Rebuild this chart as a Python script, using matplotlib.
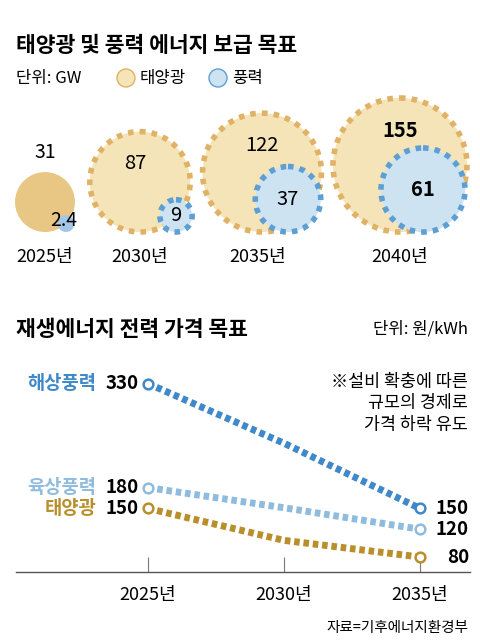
import numpy as np
import matplotlib.pyplot as plt
from matplotlib.patches import Circle

plt.rcParams['font.family'] = ['Noto Sans CJK KR', 'DejaVu Sans']

# bubble chart data (GW)
years_top = ['2025년', '2030년', '2035년', '2040년']
solar_gw = [31, 87, 122, 155]
wind_gw = [2.4, 9, 37, 61]

# price chart data (원/kWh)
years_line = [2025, 2030, 2035]
offshore = [330, 244, 150]
onshore = [180, 151, 120]
solar_price = [150, 104, 80]

C_SOLAR_FILL = '#f4e4b8'
C_SOLAR_EDGE = '#e0b266'
C_WIND_FILL = '#cde3f2'
C_WIND_EDGE = '#5d9fd3'
C_OFF = '#3f88c9'
C_ON = '#8fbcde'
C_SOL = '#b98f2c'

fig = plt.figure(figsize=(4.8, 6.44), dpi=100)
bg = fig.add_axes([0, 0, 1, 1])
bg.set_xlim(0, 480)
bg.set_ylim(644, 0)
bg.set_aspect('equal')
bg.axis('off')

bg.text(16, 45, '태양광 및 풍력 에너지 보급 목표', fontsize=15.5, fontweight='bold', va='center')
bg.text(16, 78, '단위: GW', fontsize=12, va='center')
bg.add_patch(Circle((126, 78), 9, facecolor=C_SOLAR_FILL, edgecolor=C_SOLAR_EDGE, lw=1))
bg.text(140, 78, '태양광', fontsize=12, va='center')
bg.add_patch(Circle((218, 78), 9, facecolor=C_WIND_FILL, edgecolor=C_WIND_EDGE, lw=1))
bg.text(232, 78, '풍력', fontsize=12, va='center')

# bubbles: area proportional to value, bottoms aligned
scale = 67 / np.sqrt(max(solar_gw))
base = 232
solar_x = [45, 140, 262, 400]
wind_x = [66, 176, 288, 423]
label_x = [45, 140, 258, 400]
dots = (0, (1, 1.1))
for i in range(4):
    rs = scale * np.sqrt(solar_gw[i])
    rw = scale * np.sqrt(wind_gw[i])
    if i == 0:
        bg.add_patch(Circle((solar_x[i], base - rs), rs, facecolor='#e8c683', edgecolor='none'))
        bg.add_patch(Circle((wind_x[i], base - rw), rw, facecolor='#a3c7e6', edgecolor='none'))
        bg.text(solar_x[i], base - 2 * rs - 20, f'{solar_gw[i]}', fontsize=14, ha='center', va='center')
        bg.text(wind_x[i] - 2, base - 12, f'{wind_gw[i]}', fontsize=14, ha='center', va='center')
    else:
        bg.add_patch(Circle((solar_x[i], base - rs), rs, facecolor=C_SOLAR_FILL, edgecolor=C_SOLAR_EDGE,
                            lw=4, linestyle=dots))
        bg.add_patch(Circle((wind_x[i], base - rw), rw, facecolor=C_WIND_FILL, edgecolor=C_WIND_EDGE,
                            lw=4, linestyle=dots))
        fw = 'bold' if i == 3 else 'normal'
        bg.text(solar_x[i] - 5 if i == 1 else solar_x[i], base - 2 * rs + 32, f'{solar_gw[i]}', fontsize=14.5,
                ha='center', va='center', fontweight=fw)
        bg.text(wind_x[i], base - rw, f'{wind_gw[i]}', fontsize=14.5, ha='center', va='center', fontweight=fw)
    bg.text(label_x[i], 257, years_top[i], fontsize=13, ha='center', va='center')

# price section
bg.text(16, 329, '재생에너지 전력 가격 목표', fontsize=15.5, fontweight='bold', va='center')
bg.text(468, 329, '단위: 원/kWh', fontsize=12, ha='right', va='center')
bg.text(468, 403, '※설비 확충에 따른\n규모의 경제로\n가격 하락 유도', fontsize=12.5, ha='right', va='center',
        linespacing=1.25)
bg.text(468, 628, '자료=기후에너지환경부', fontsize=10.5, ha='right', va='center')

ax = fig.add_axes([16 / 480, 1 - 572 / 644, 454 / 480, 202 / 644])
ax.set_xlim(2020.15, 2036.84)
ax.set_ylim(58.4, 349.5)
ax.patch.set_alpha(0)
for s in ['top', 'right', 'left']:
    ax.spines[s].set_visible(False)
ax.spines['bottom'].set_color('#555555')
ax.spines['bottom'].set_linewidth(1)
ax.set_yticks([])
ax.set_xticks(years_line)
ax.tick_params(axis='x', direction='in', length=11, color='#777777', pad=10, labelsize=13)
ax.set_xticklabels([f'{y}년' for y in years_line])

series = [(offshore, C_OFF, '해상풍력'), (onshore, C_ON, '육상풍력'), (solar_price, C_SOL, '태양광')]
for vals, col, name in series:
    ax.plot(years_line, vals, color=col, lw=5, linestyle=(0, (0.8, 0.55)), solid_capstyle='butt')
    ax.plot([years_line[0], years_line[-1]], [vals[0], vals[-1]], 'o', ms=7, mfc='white', mec=col, mew=1.8,
            linestyle='none')
    ax.text(2024.65, vals[0], f'{vals[0]}', fontsize=13.5, fontweight='bold', ha='right', va='center')
    ax.text(2023.1, vals[0], name, fontsize=13.5, fontweight='bold', color=col, ha='right', va='center')
    ax.text(2036.8, vals[-1], f'{vals[-1]}', fontsize=13.5, fontweight='bold', ha='right', va='center')

fig.savefig('out.png', dpi=100)
